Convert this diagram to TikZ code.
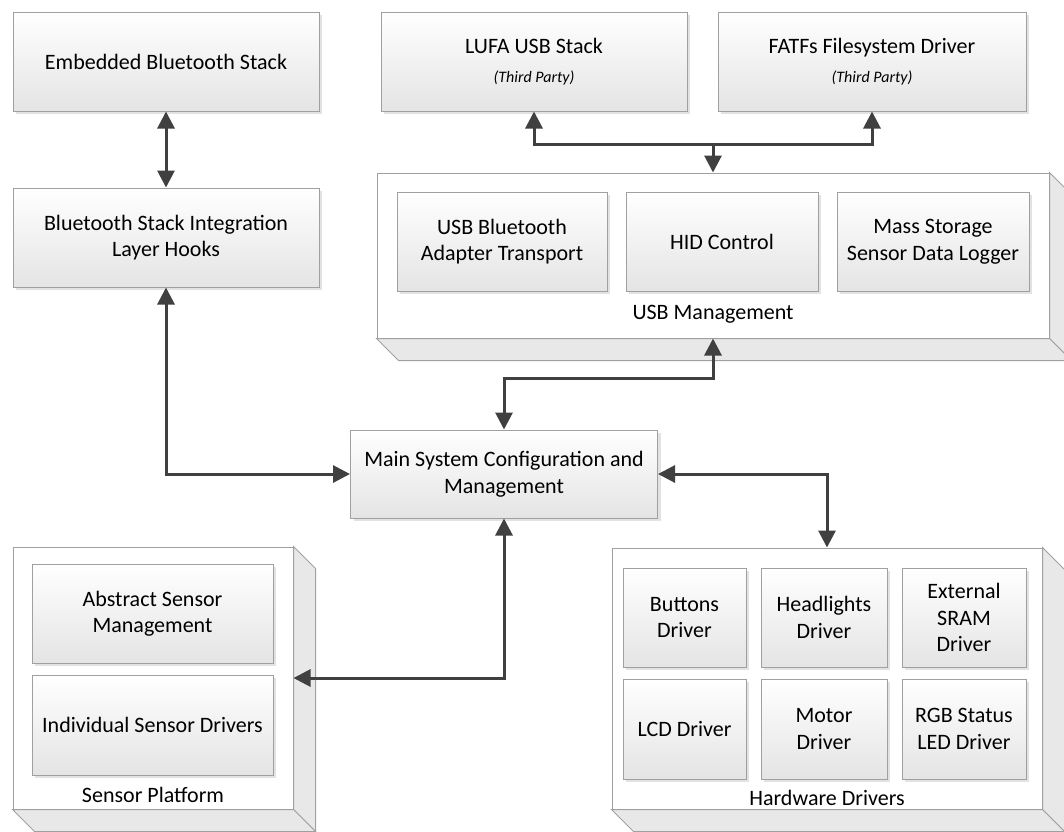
\documentclass[tikz,border=0pt]{standalone}
\usepackage{fontspec}
\setmainfont{Carlito}
\usetikzlibrary{arrows.meta,shadows,calc}
\definecolor{edgec}{HTML}{A0A0A0}
\definecolor{arrc}{HTML}{404040}
\definecolor{facec}{HTML}{E8E8E8}
\definecolor{botc}{HTML}{E4E4E4}
\newcommand\subtxt[1]{{\fontsize{16}{20}\selectfont\itshape #1}}
\begin{document}
\begin{tikzpicture}[x=1pt,y=-1pt,
  box/.style={draw=edgec, line width=1pt, top color=white, bottom color=botc,
    drop shadow={shadow xshift=3pt, shadow yshift=-3pt, fill=black!14, opacity=0.8},
    align=center, inner sep=0pt, minimum height=99pt,
    font=\fontsize{22}{26.5}\selectfont},
  cont/.style={draw=edgec, line width=1pt, fill=white, inner sep=0pt},
  face/.style={draw=edgec, line width=1pt, fill=facec},
  lbl/.style={inner sep=0pt, font=\fontsize{22}{26.5}\selectfont},
  conn/.style={draw=arrc, line width=3pt, {Triangle[length=17pt,width=17pt]}-{Triangle[length=17pt,width=17pt]}},
  oneway/.style={draw=arrc, line width=3pt, -{Triangle[length=17pt,width=17pt]}}
]
\useasboundingbox (0,0) rectangle (1064,831);
\clip (0,0) rectangle (1064,831);

% containers
\node[cont, minimum width=672pt, minimum height=165pt] (usbm) at (713,255.5) {};
\draw[face] (usbm.north east) -- ++(22,22) -- ($(usbm.south east)+(22pt,-22pt)$) -- (usbm.south east) -- cycle;
\draw[face] (usbm.south west) -- (usbm.south east) -- ($(usbm.south east)+(22pt,-22pt)$) -- ($(usbm.south west)+(22pt,-22pt)$) -- cycle;

\node[cont, minimum width=280pt, minimum height=262pt] (sens) at (153,678) {};
\draw[face] (sens.north east) -- ++(22,22) -- ($(sens.south east)+(22pt,-22pt)$) -- (sens.south east) -- cycle;
\draw[face] (sens.south west) -- (sens.south east) -- ($(sens.south east)+(22pt,-22pt)$) -- ($(sens.south west)+(22pt,-22pt)$) -- cycle;

\node[cont, minimum width=430pt, minimum height=261pt] (hw) at (827,678.5) {};
\draw[face] (hw.north east) -- ++(22,22) -- ($(hw.south east)+(22pt,-22pt)$) -- (hw.south east) -- cycle;
\draw[face] (hw.south west) -- (hw.south east) -- ($(hw.south east)+(22pt,-22pt)$) -- ($(hw.south west)+(22pt,-22pt)$) -- cycle;

\node[lbl] (usbml) at (713,314) {USB Management};
\node[lbl] (sensl) at (153,795) {Sensor Platform};
\node[lbl] (hwl) at (827,798) {Hardware Drivers};

% top boxes
\node[box, minimum width=306pt] (emb) at (166,61.5) {Embedded Bluetooth Stack};
\node[box, minimum width=306pt] (integ) at (166,237.5) {Bluetooth Stack Integration\\Layer Hooks};
\node[box, minimum width=306pt] (lufa) at (534,61.5) {LUFA USB Stack\\[2pt]\subtxt{(Third Party)}};
\node[box, minimum width=308pt] (fatfs) at (872,61.5) {FATFs Filesystem Driver\\[2pt]\subtxt{(Third Party)}};

% usb inner
\node[box, minimum width=210pt] (usbbt) at (502,241.5) {USB Bluetooth\\Adapter Transport};
\node[box, minimum width=192pt] (hid) at (722,241.5) {HID Control};
\node[box, minimum width=192pt] (mass) at (933,241.5) {Mass Storage\\Sensor Data Logger};

% main
\node[box, minimum width=307pt, minimum height=88pt] (main) at (504,474) {Main System Configuration and\\Management};

% sensor inner
\node[box, minimum width=241pt] (abs) at (152.5,613.5) {Abstract Sensor\\Management};
\node[box, minimum width=241pt, minimum height=100pt] (ind) at (152.5,725) {Individual Sensor Drivers};

% hardware inner
\node[box, minimum width=123pt] (btn) at (684.5,617.5) {Buttons\\Driver};
\node[box, minimum width=126pt] (head) at (824,617.5) {Headlights\\Driver};
\node[box, minimum width=124pt] (ext) at (964,617.5) {External\\SRAM\\Driver};
\node[box, minimum width=123pt, minimum height=100pt] (lcd) at (684.5,729) {LCD Driver};
\node[box, minimum width=126pt, minimum height=100pt] (mot) at (824,729) {Motor\\Driver};
\node[box, minimum width=124pt, minimum height=100pt] (rgb) at (964,729) {RGB Status\\LED Driver};

% connectors
\coordinate (jn) at (713,144);
\coordinate (jm) at (713,378);
\draw[conn] (emb.south) -- (integ.north);
\draw[conn] (lufa.south) |- (jn) -| (fatfs.south);
\draw[oneway] (jn) -- (usbm.north);
\draw[conn] (usbm.south) -- (jm) -| (main.north);
\draw[conn] (integ.south) |- (main.west);
\draw[conn] (main.east) -| (hw.north);
\draw[conn] (main.south) |- (sens.east);
\end{tikzpicture}
\end{document}
